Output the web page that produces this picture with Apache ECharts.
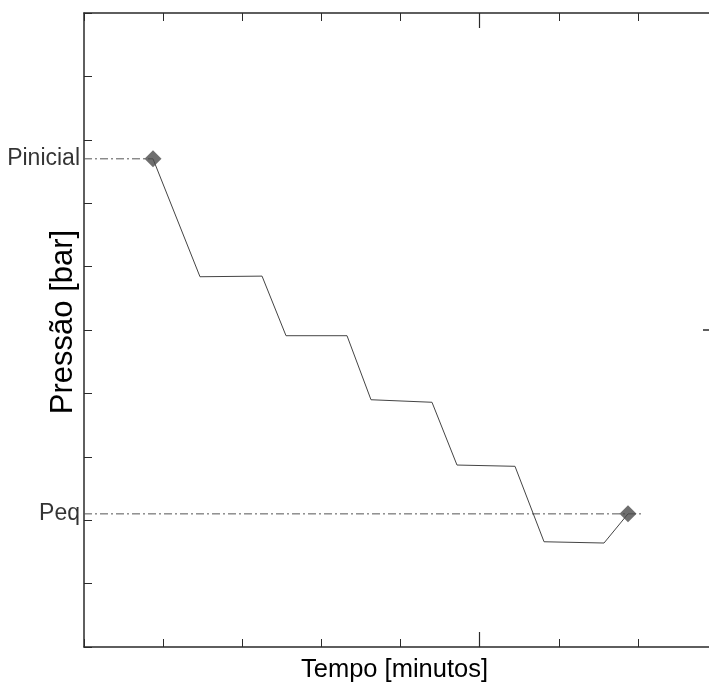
<!DOCTYPE html>
<html>
<head>
<meta charset="utf-8">
<script src="https://cdn.jsdelivr.net/npm/echarts@6/dist/echarts.min.js"></script>
<style>html,body{margin:0;padding:0;background:#fff}#c{width:709px;height:683px}</style>
</head>
<body>
<div id="c"></div>
<script>
// Pressure decay curve (arbitrary units)
const timeValues = [0.872, 1.466, 2.25, 2.553, 3.324, 3.627, 4.398, 4.714, 5.447, 5.814, 6.572, 6.875];
const pressureValues = [7.70, 5.84, 5.85, 4.91, 4.91, 3.90, 3.86, 2.87, 2.85, 1.66, 1.64, 2.10];
// Marked points (diamonds)
const markerTimes = [0.872, 6.875];
const markerPressures = [7.70, 2.10];
// Reference lines
const refLabels = ['Pinicial', 'Peq'];
const refValues = [7.70, 2.10];
const refEnds = [0.872, 7.04];
// Axis titles
const xTitle = 'Tempo [minutos]';
const yTitle = 'Pressão [bar]';

const FONT = 'Liberation Sans, Arial, sans-serif';
const axisCol = '#2a2a2a';

const chart = echarts.init(document.getElementById('c'), null, {renderer: 'canvas'});

const gridBox = {left: 84, top: 13, width: 633, height: 634, containLabel: false, outerBoundsMode: 'none'};

function ax(extra) {
  return Object.assign({
    type: 'value', axisLabel: {show: false}, splitLine: {show: false},
    axisLine: {show: true, onZero: false, lineStyle: {color: axisCol, width: 1.5}},
    axisTick: {show: true, inside: true, length: 8, lineStyle: {color: axisCol, width: 1}}
  }, extra);
}
const noLine = {show: false, onZero: false};
const longTick = {show: true, inside: true, length: 15, customValues: [5], lineStyle: {color: axisCol, width: 1.2}};

const series = [
  {
    type: 'line', xAxisIndex: 0, yAxisIndex: 0,
    data: timeValues.map((t, i) => [t, pressureValues[i]]),
    showSymbol: false, symbol: 'none',
    lineStyle: {color: '#444', width: 1}, z: 3
  },
  {
    type: 'scatter', xAxisIndex: 0, yAxisIndex: 0,
    data: markerTimes.map((t, i) => [t, markerPressures[i]]),
    symbol: 'diamond', symbolSize: 17,
    itemStyle: {color: '#4a4a4a'}, z: 5
  },
  {
    type: 'scatter', xAxisIndex: 0, yAxisIndex: 0,
    data: refLabels.map((n, i) => ({name: n, value: [0, refValues[i]]})),
    symbolSize: 0,
    label: {show: true, position: 'left', distance: 4, formatter: p => p.name,
            color: '#000', fontFamily: FONT, fontSize: 23},
    z: 6
  }
];
refValues.forEach((v, i) => {
  series.push({
    type: 'line', xAxisIndex: 0, yAxisIndex: 0,
    data: [[0, v], [refEnds[i], v]],
    showSymbol: false, symbol: 'none',
    lineStyle: {color: '#555', width: 1, type: [8, 3, 2, 3]}, z: 2
  });
});

chart.setOption({
  animation: false,
  backgroundColor: '#fff',
  grid: gridBox,
  xAxis: [
    ax({position: 'bottom', min: 0, max: 8, interval: 1,
      name: xTitle, nameLocation: 'middle', nameGap: 10,
      nameTextStyle: {fontFamily: FONT, fontSize: 25.5, color: '#000', verticalAlign: 'top', padding: [0, 12, 0, 0]}}),
    ax({position: 'top', min: 0, max: 8, interval: 1}),
    ax({position: 'bottom', min: 0, max: 8, interval: 5, axisLine: noLine, axisTick: longTick}),
    ax({position: 'top', min: 0, max: 8, interval: 5, axisLine: noLine, axisTick: longTick})
  ],
  yAxis: [
    ax({position: 'left', min: 0, max: 10, interval: 1,
      name: yTitle, nameLocation: 'middle', nameGap: 5, nameRotate: 90,
      nameTextStyle: {fontFamily: FONT, fontSize: 31, color: '#000', padding: [0, 0, 0, 16]}}),
    ax({position: 'right', min: 0, max: 10, interval: 1}),
    ax({position: 'right', min: 0, max: 10, interval: 5, axisLine: noLine,
      axisTick: {show: true, inside: true, length: 14, customValues: [5], lineStyle: {color: axisCol, width: 1.5}}})
  ],
  series: series
});
</script>
</body>
</html>
